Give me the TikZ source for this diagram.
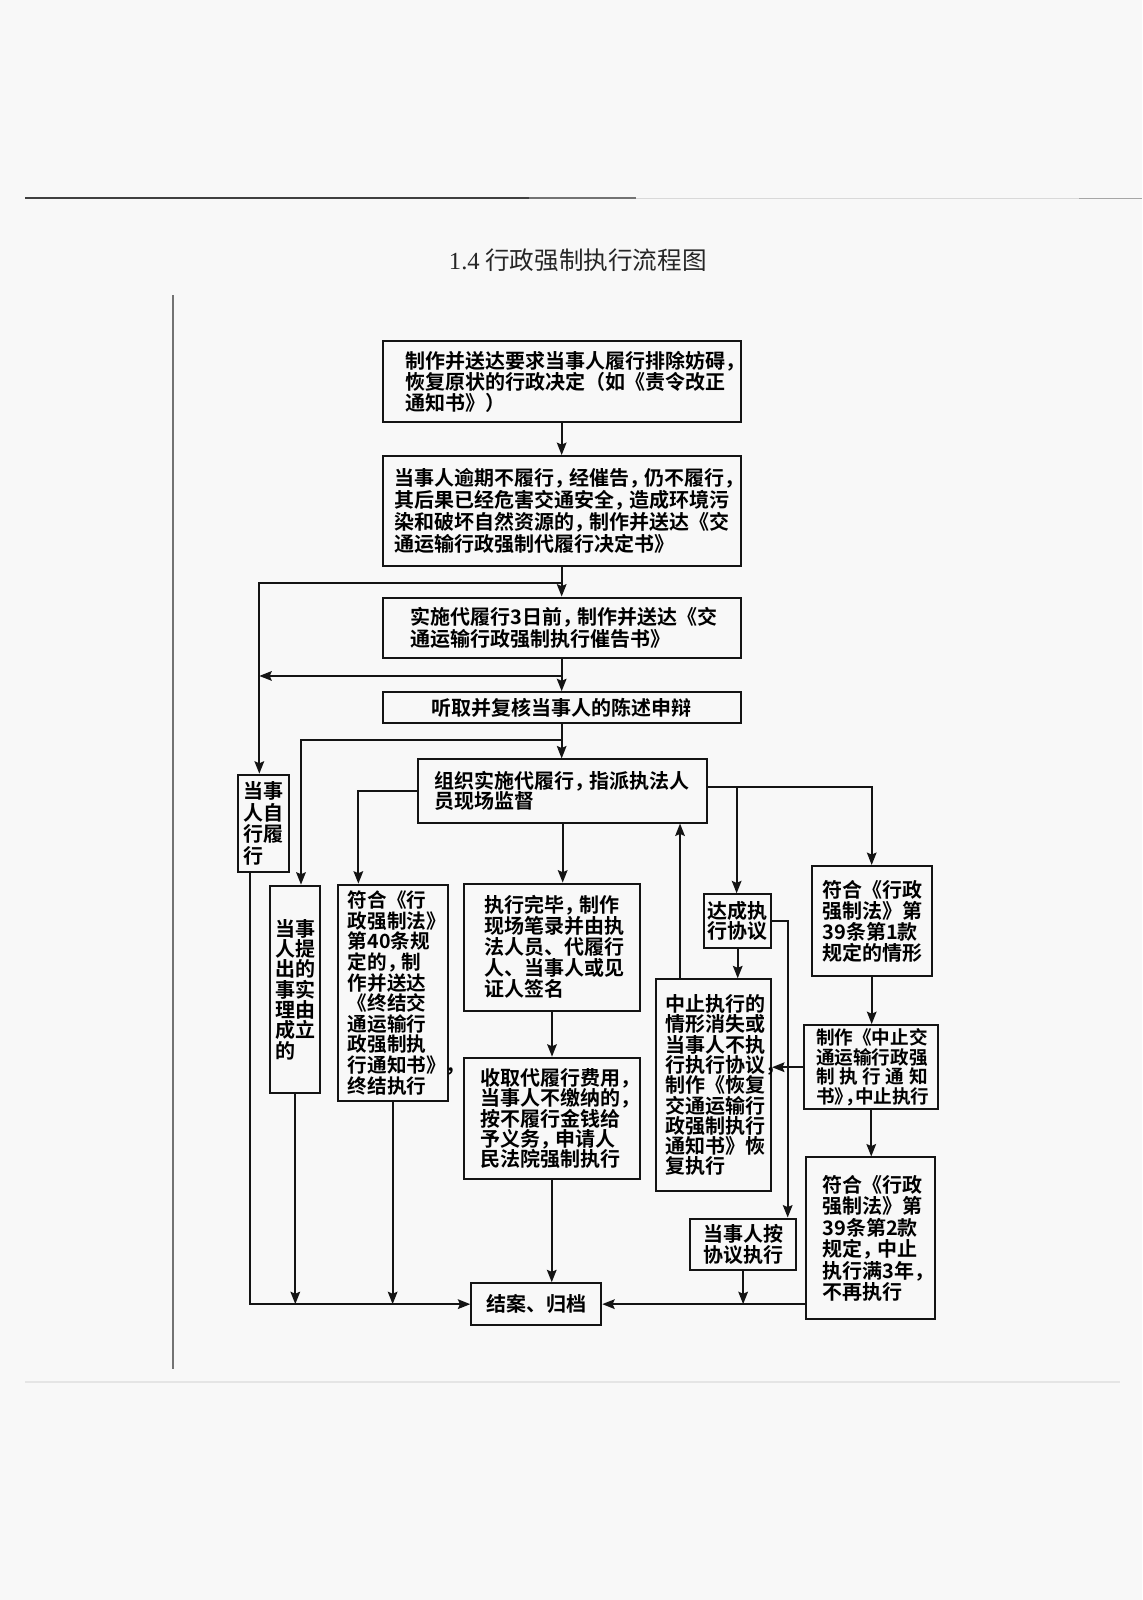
\documentclass[tikz,border=0pt]{standalone}
\usepackage{fontspec}
\usetikzlibrary{arrows.meta,calc}
\newfontfamily\hei{Noto Sans CJK SC Bold}
\newfontfamily\tfont{Noto Sans CJK SC}
\newfontfamily\tlat{Liberation Serif}
\newdimen\pxu \pxu=0.509pt
\newcommand\hf[1]{\hei\fontsize{10pt}{#1}\selectfont}
\newcommand\zc{\makebox[0.75em][l]{，}}
\newcommand\zch{\makebox[0.5em][l]{，}}
\definecolor{ink}{HTML}{141414}
\definecolor{paper}{HTML}{F8F8F8}
\tikzset{
  box/.style={draw=ink, line width=1pt, inner ysep=0pt, anchor=north west},
  arr/.style={draw=ink, line width=1pt, -{Stealth[length=6.2pt,width=4.8pt,inset=1pt]}},
}
\begin{document}
\begin{tikzpicture}[x=0.509pt,y=-0.509pt]
\useasboundingbox (0,0) rectangle (1121.8,1571.7);
\fill[paper] (0,0) rectangle (1121.8,1571.7);
% page decorations
\draw[line width=1.1pt, black!75] (25,194.8) -- (520,194.8);
\draw[line width=1pt, black!55] (520,194.8) -- (625,194.8);
\draw[line width=0.8pt, black!15] (625,194.8) -- (1060,194.8);
\draw[line width=0.8pt, black!35] (1060,194.8) -- (1121.8,194.8);
\draw[line width=0.6pt, black!55] (170,290) -- (170,1345);
\draw[line width=1pt, black!10] (25,1358) -- (1100,1358);
% title
\node[font=\tfont\fontsize{12.3pt}{13pt}\selectfont, text=black!85] (ttl) at (567.6,255.4) {{\tlat 1.4} 行政强制执行流程图};
% boxes
\node[box, align=left, minimum width=351.5\pxu, minimum height=80\pxu, inner xsep=22\pxu, text width=307.5\pxu, font=\hf{10.4pt}] (b1) at (375,334)
 {制作并送达要求当事人履行排除妨碍\zc\\恢复原状的行政决定（如《责令改正\\通知书》）};
\node[box, align=left, minimum width=351.5\pxu, minimum height=108\pxu, inner xsep=12\pxu, text width=327.5\pxu, font=\hf{10.9pt}] (b2) at (375,447)
 {当事人逾期不履行\zc 经催告\zc 仍不履行\zc\\其后果已经危害交通安全\zc 造成环境污\\染和破坏自然资源的\zc 制作并送达《交\\通运输行政强制代履行决定书》};
\node[box, align=left, minimum width=351.5\pxu, minimum height=59\pxu, inner xsep=27\pxu, text width=297.5\pxu, font=\hf{10.8pt}] (b3) at (375,586)
 {实施代履行3日前\zc 制作并送达《交\\通运输行政强制执行催告书》};
\node[box, align=center, minimum width=351.5\pxu, minimum height=30\pxu, inner xsep=0pt, font=\hf{10.8pt}] (b4) at (375,679)
 {听取并复核当事人的陈述申辩};
\node[box, align=left, minimum width=283.5\pxu, minimum height=62\pxu, inner xsep=16\pxu, text width=251.5\pxu, font=\hf{10.2pt}] (b5) at (410,745)
 {组织实施代履行\zc 指派执法人\\员现场监督};
\node[box, align=left, minimum width=50.5\pxu, minimum height=96\pxu, inner xsep=0pt, font=\hf{10.85pt}] (b6) at (232.5,760)
 {当事\\人自\\行履\\行};
\node[box, align=left, minimum width=49\pxu, minimum height=204\pxu, inner xsep=0pt, font=\hf{10.15pt}] (b7) at (264.6,869)
 {当事\\人提\\出的\\事实\\理由\\成立\\的};
\node[box, align=left, minimum width=108\pxu, minimum height=213\pxu, inner xsep=10\pxu, text width=88\pxu, font=\hei\fontsize{9.8pt}{10.3pt}\selectfont] (b8) at (330.7,868)
 {符合《行\\政强制法》\\第40条规\\定的\zc 制\\作并送达\\《终结交\\通运输行\\政强制执\\行通知书》\rlap{，}\\终结执行};
\node[box, align=left, minimum width=173.5\pxu, minimum height=125\pxu, inner xsep=20\pxu, text width=133.5\pxu, font=\hf{10.5pt}] (b9) at (454.5,867)
 {执行完毕\zc 制作\\现场笔录并由执\\法人员、代履行\\人、当事人或见\\证人签名};
\node[box, align=left, minimum width=173\pxu, minimum height=119.5\pxu, inner xsep=17\pxu, text width=139\pxu, font=\hf{10.2pt}] (b10) at (454.5,1038)
 {收取代履行费用\zc\\当事人不缴纳的\zc\\按不履行金钱给\\予义务\zc 申请人\\民法院强制执行};
\node[box, align=left, minimum width=65.4\pxu, minimum height=53\pxu, inner xsep=0pt, font=\hf{10pt}] (b11) at (691,877.5)
 {达成执\\行协议};
\node[box, align=left, minimum width=113.4\pxu, minimum height=208\pxu, inner xsep=10\pxu, text width=93.4\pxu, font=\hf{10.15pt}] (b12) at (643,961)
 {中止执行的\\情形消失或\\当事人不执\\行执行协议\zc\\制作《恢复\\交通运输行\\政强制执行\\通知书》恢\\复执行};
\node[box, align=left, minimum width=118\pxu, minimum height=108\pxu, inner xsep=10.7\pxu, text width=96.6\pxu, font=\hf{10.5pt}] (b13) at (796.3,849.7)
 {符合《行政\\强制法》第\\39条第1款\\规定的情形};
\node[box, align=left, minimum width=131.7\pxu, minimum height=82.7\pxu, inner xsep=11.6\pxu, text width=108.5\pxu, font=\hei\fontsize{9.3pt}{9.7pt}\selectfont] (b14) at (789,1006)
 {制作《中止交\\通运输行政强\\\makebox[6em][s]{制\hfill 执\hfill 行\hfill 通\hfill 知}\\书\makebox[0.6em][l]{》}\zch 中止执行};
\node[box, align=left, minimum width=126.5\pxu, minimum height=159\pxu, inner xsep=16\pxu, text width=94.5\pxu, font=\hf{10.7pt}] (b15) at (791,1136)
 {符合《行政\\强制法》第\\39条第2款\\规定\zc 中止\\执行满3年\zc\\不再执行};
\node[box, align=left, minimum width=104\pxu, minimum height=51\pxu, inner xsep=0pt, font=\hf{10.8pt}] (b16) at (677,1196)
 {当事人按\\协议执行};
\node[box, align=center, minimum width=127.6\pxu, minimum height=41\pxu, inner xsep=0pt, font=\hf{10.8pt}] (b17) at (462,1259.6)
 {结案、归档};
% helper coordinates
\coordinate (j1) at (550.75,573);
\coordinate (j2) at (550.75,664);
\coordinate (j3) at (550.75,727);
\coordinate (j4) at (723.6,773.4);
\coordinate (b6in) at ([xshift=-4\pxu]b6.north);
\coordinate (b6out) at ([xshift=-12.75\pxu]b6.south);
\coordinate (b7in) at ([xshift=5.6\pxu]b7.north);
\coordinate (b8in) at ([xshift=21.3\pxu]b8.north west);
\coordinate (b12out) at ([xshift=25\pxu]b12.north west);
\coordinate (b16in) at ([xshift=-9.2\pxu]b16.north east);
% connectors
\draw[arr] (b1.south) -- (b2.north);
\draw[arr] (b2.south) -- (b3.north);
\draw[arr] (j1) -| (b6in);
\draw[arr] (b3.south) -- (b4.north);
\draw[arr] (j2) -- (j2 -| b6in);
\draw[arr] (b4.south) -- (b4.south |- b5.north);
\draw[arr] (j3) -| (b7in);
\draw[arr] (b5.west) -| (b8in);
\draw[arr] (b5.south) -- (b5.south |- b9.north);
\draw[arr] (b9.south) -- (b9.south |- b10.north);
\draw[arr] (b10.south) -- (b10.south |- b17.north);
\draw[arr] (b5.east |- j4) -| (b13.north);
\draw[arr] (j4) -- (j4 |- b11.north);
\draw[arr] (b11.south) -- (b11.south |- b12.north);
\draw[arr] (b11.east) -| (b16in);
\draw[arr] (b12out) -- (b12out |- b5.south);
\draw[arr] (b13.south) -- (b13.south |- b14.north);
\draw[arr] (b14.west) -- (b14.west -| b12.east);
\draw[arr] (b14.south) -- (b14.south |- b15.north);
\draw[arr] (b15.west |- b17.east) -- (b17.east);
\draw[arr] (b16.south) -- (b16.south |- b17.east);
\draw[arr] (b6out) |- (b17.west);
\draw[arr] (b7.south) -- (b7.south |- b17.west);
\draw[arr] (b8.south) -- (b8.south |- b17.west);
\end{tikzpicture}
\end{document}
